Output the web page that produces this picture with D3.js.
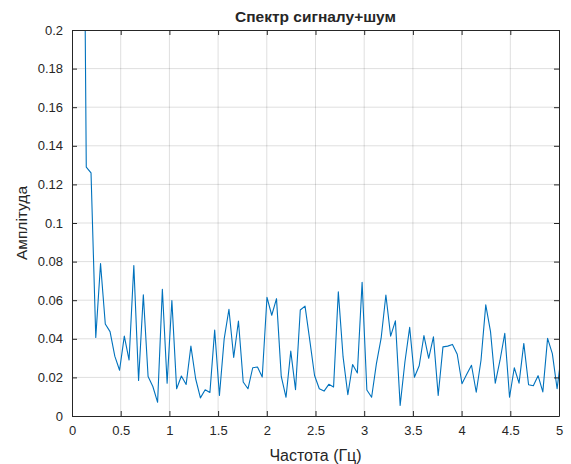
<!DOCTYPE html>
<html>
<head>
<meta charset="utf-8">
<script src="https://cdn.jsdelivr.net/npm/d3@7"></script>
<style>
  body { margin: 0; background: #fff; }
  svg text { font-family: "Liberation Sans", Arial, sans-serif; fill: #262626; }
  .grid line { stroke: #000; stroke-opacity: 0.13; }
</style>
</head>
<body>
<div id="chart"></div>
<script>
var width = 571,
    height = 464;

// frequency step fs/N = 100/2048 Hz, bins k = 0..103
var df = 100 / 2048;
var amplitude = [
  0.35, 0.9, 0.45, 0.129, 0.126, 0.0407, 0.079, 0.0477, 0.0437, 0.031,
  0.0237, 0.0414, 0.029, 0.078, 0.0184, 0.0628, 0.0205, 0.0153, 0.0071, 0.0657,
  0.017, 0.0598, 0.0141, 0.0207, 0.0163, 0.0362, 0.0193, 0.0094, 0.0136, 0.0122,
  0.0445, 0.0106, 0.040, 0.0553, 0.0303, 0.0492, 0.0176, 0.0141, 0.025, 0.0254,
  0.0202, 0.0615, 0.0522, 0.0608, 0.0205, 0.0097, 0.0336, 0.0136, 0.0549, 0.0569,
  0.0392, 0.021, 0.0141, 0.0129, 0.0164, 0.015, 0.0643, 0.0306, 0.011, 0.0267,
  0.0223, 0.0693, 0.0135, 0.0097, 0.027, 0.0403, 0.0627, 0.0414, 0.0493, 0.0055,
  0.028, 0.0459, 0.0201, 0.026, 0.0417, 0.0299, 0.041, 0.0106, 0.0358, 0.0362,
  0.0371, 0.032, 0.0167, 0.0216, 0.0263, 0.0123, 0.0289, 0.0576, 0.0437, 0.017,
  0.0289, 0.0428, 0.0097, 0.025, 0.017, 0.0376, 0.0162, 0.0157, 0.0209, 0.0125,
  0.0402, 0.0323, 0.0141, 0.034
];
var xTicks = [0, 0.5, 1, 1.5, 2, 2.5, 3, 3.5, 4, 4.5, 5];
var yTicks = [0, 0.02, 0.04, 0.06, 0.08, 0.1, 0.12, 0.14, 0.16, 0.18, 0.2];

var title = "Спектр сигналу+шум",
    xLabel = "Частота (Гц)",
    yLabel = "Амплітуда";

var margin = {left: 72, right: 12, top: 30, bottom: 48};
var plotW = width - margin.left - margin.right,
    plotH = height - margin.top - margin.bottom;

var x = d3.scaleLinear().domain([0, 5]).range([0, plotW]);
var y = d3.scaleLinear().domain([0, 0.2]).range([plotH, 0]);

var svg = d3.select("#chart")
    .append("svg")
    .attr("width", width)
    .attr("height", height);

var g = svg.append("g")
    .attr("transform", "translate(" + margin.left + "," + margin.top + ")");

// grid
g.append("g").attr("class", "grid")
    .selectAll("line").data(xTicks.slice(1, -1)).enter().append("line")
    .attr("x1", d => x(d)).attr("x2", d => x(d))
    .attr("y1", 0).attr("y2", plotH);
g.append("g").attr("class", "grid")
    .selectAll("line").data(yTicks.slice(1, -1)).enter().append("line")
    .attr("y1", d => y(d)).attr("y2", d => y(d))
    .attr("x1", 0).attr("x2", plotW);

// data line, clipped to the axes box
svg.append("clipPath").attr("id", "clip")
    .append("rect").attr("width", plotW).attr("height", plotH);

var line = d3.line()
    .x((d, i) => x(i * df))
    .y(d => y(d));

g.append("path")
    .datum(amplitude)
    .attr("clip-path", "url(#clip)")
    .attr("fill", "none")
    .attr("stroke", "#0072BD")
    .attr("stroke-width", 1.1)
    .attr("stroke-linejoin", "round")
    .attr("d", line);

// axes (ticks inward, box on)
var fmt = d => String(+d.toFixed(2));
function styleAxis(sel) {
  sel.select(".domain").attr("stroke", "#262626");
  sel.selectAll(".tick line").attr("stroke", "#262626");
  sel.selectAll(".tick text").style("font-size", "13px").attr("fill", "#262626");
}

g.append("g")
    .attr("transform", "translate(0," + plotH + ")")
    .call(d3.axisBottom(x).tickValues(xTicks).tickFormat(fmt).tickSizeInner(-5).tickSizeOuter(0).tickPadding(10))
    .call(styleAxis);
g.append("g")
    .call(d3.axisTop(x).tickValues(xTicks).tickFormat("").tickSizeInner(-5).tickSizeOuter(0))
    .call(styleAxis);
g.append("g")
    .call(d3.axisLeft(y).tickValues(yTicks).tickFormat(fmt).tickSizeInner(-5).tickSizeOuter(0).tickPadding(9))
    .call(styleAxis);
g.append("g")
    .attr("transform", "translate(" + plotW + ",0)")
    .call(d3.axisRight(y).tickValues(yTicks).tickFormat("").tickSizeInner(-5).tickSizeOuter(0))
    .call(styleAxis);

// texts
svg.append("text")
    .attr("x", margin.left + plotW / 2)
    .attr("y", 22)
    .attr("text-anchor", "middle")
    .style("font-size", "15.5px")
    .style("font-weight", "bold")
    .attr("fill", "#000")
    .text(title);

svg.append("text")
    .attr("x", margin.left + plotW / 2)
    .attr("y", 461)
    .attr("text-anchor", "middle")
    .style("font-size", "16px")
    .text(xLabel);

svg.append("text")
    .attr("transform", "translate(27," + (margin.top + plotH / 2) + ")rotate(-90)")
    .attr("text-anchor", "middle")
    .style("font-size", "15.5px")
    .text(yLabel);
</script>
</body>
</html>
